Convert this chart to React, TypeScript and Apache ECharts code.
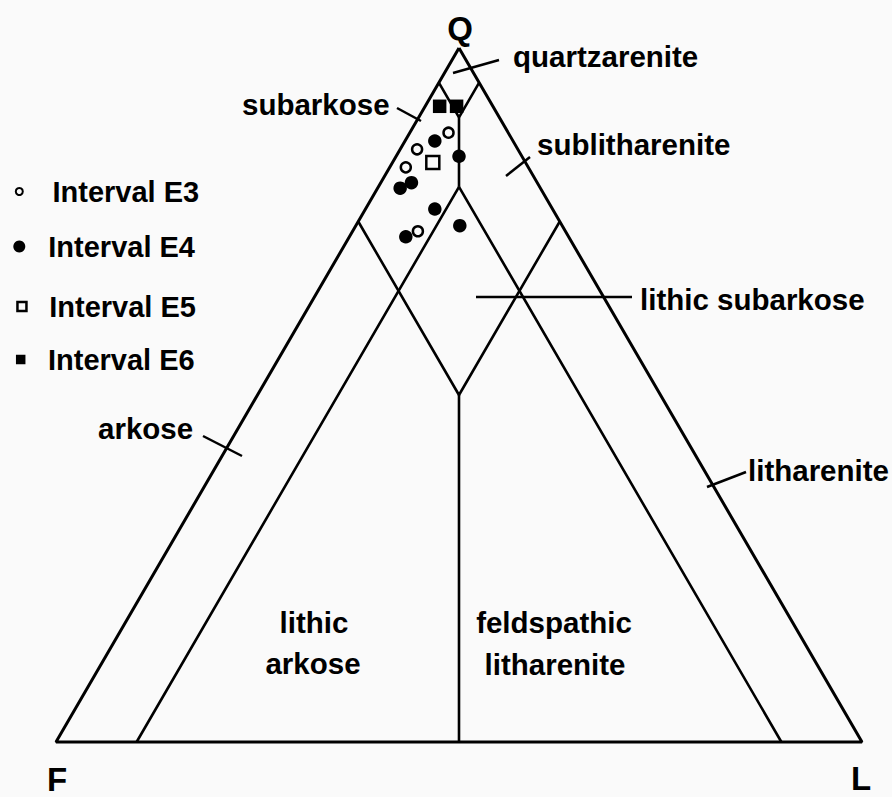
import React, { useEffect, useRef } from "react";
import * as echarts from "echarts";

// Ternary compositions in percent: [Q, F, L]
const intervalE3 = [
  [87.8, 7.4, 4.8],
  [85.4, 12.5, 2.1],
  [82.8, 15.2, 2.0],
  [73.6, 18.3, 8.1],
];
const intervalE4 = [
  [86.6, 9.7, 3.7],
  [84.4, 7.7, 7.8],
  [80.6, 15.6, 3.8],
  [79.8, 17.4, 2.8],
  [76.8, 14.6, 8.6],
  [74.4, 12.8, 12.9],
  [72.8, 20.2, 7.0],
];
const intervalE5 = [[83.5, 11.5, 5.0]];
const intervalE6 = [
  [91.6, 6.5, 1.8],
  [91.6, 4.5, 3.9],
];

const seriesNames = ["Interval E3", "Interval E4", "Interval E5", "Interval E6"];

// Field boundaries (ternary polylines, [Q, F, L])
const outline = [
  [100, 0, 0],
  [0, 100, 0],
  [0, 0, 100],
  [100, 0, 0],
];
const fieldLines = [
  [[95, 5, 0], [90, 5, 5], [95, 0, 5]],
  [[90, 5, 5], [80, 10, 10]],
  [[0, 90, 10], [80, 10, 10], [0, 10, 90]],
  [[75, 25, 0], [50, 25, 25], [75, 0, 25]],
  [[50, 25, 25], [0, 50, 50]],
];

const fieldNames = [
  "quartzarenite",
  "subarkose",
  "sublitharenite",
  "lithic subarkose",
  "arkose",
  "litharenite",
  "lithic",
  "arkose",
  "feldspathic",
  "litharenite",
];
const poleNames = ["Q", "F", "L"];

const FONT = "'Liberation Sans', Arial, Helvetica, sans-serif";

const toXY = (p: number[]) => [(p[2] + p[0] / 2) / 100, p[0] / 100];

export default function App() {
  const ref = useRef<HTMLDivElement>(null);

  useEffect(() => {
    if (!ref.current) return;
    const chart = echarts.init(ref.current, undefined, { renderer: "svg" });

    const lineSeries = [outline, ...fieldLines].map((pl, i) => ({
      type: "line",
      data: pl.map(toXY),
      symbol: "none",
      showSymbol: false,
      clip: false,
      silent: true,
      z: 1,
      lineStyle: { color: "#000", width: i === 0 ? 3 : 2.6 },
    }));

    const scatterStyles = [
      { symbol: "circle", symbolSize: 10, itemStyle: { color: "#fafafa", borderColor: "#000", borderWidth: 2.5, opacity: 1 } },
      { symbol: "circle", symbolSize: 13.5, itemStyle: { color: "#000", opacity: 1 } },
      { symbol: "rect", symbolSize: 13, itemStyle: { color: "#fafafa", borderColor: "#000", borderWidth: 2.5, opacity: 1 } },
      { symbol: "rect", symbolSize: 13.5, itemStyle: { color: "#000", opacity: 1 } },
    ];
    const groups = [intervalE3, intervalE4, intervalE5, intervalE6];
    const scatterSeries = groups.map((g, i) => ({
      type: "scatter",
      name: seriesNames[i],
      data: g.map(toXY),
      clip: false,
      z: 3,
      ...scatterStyles[i],
    }));

    // legend layout: icon centre (cx), icon size, text start x (tx), top
    const legendLayout = [
      { cx: 18.3, tx: 51.5, top: 177, icon: "circle", size: 7, itemStyle: { color: "#fafafa", borderColor: "#000", borderWidth: 2, opacity: 1 } },
      { cx: 19.3, tx: 48.3, top: 232, icon: "circle", size: 12, itemStyle: { color: "#000", borderWidth: 0, opacity: 1 } },
      { cx: 20.7, tx: 48, top: 292, icon: "rect", size: 9, itemStyle: { color: "#fafafa", borderColor: "#000", borderWidth: 2.5, opacity: 1 } },
      { cx: 20.7, tx: 48, top: 345, icon: "rect", size: 9.5, itemStyle: { color: "#000", borderWidth: 0, opacity: 1 } },
    ];

    const legends = legendLayout.map((l, i) => {
      const left = l.cx - l.size / 2;
      const pad = l.tx - left - l.size - 5;
      return {
        left,
        top: l.top,
        padding: 0,
        itemWidth: l.size,
        itemHeight: l.size,
        selectedMode: false,
        data: [{ name: seriesNames[i], icon: l.icon, itemStyle: l.itemStyle }],
        textStyle: {
          fontFamily: FONT,
          fontSize: 29,
          fontWeight: "bold",
          color: "#000",
          lineHeight: 28,
          padding: [0, 0, 0, pad],
        },
      };
    });

    const fieldLabelPos = [
      { x: 513, y: 56, align: "left" },
      { x: 242, y: 104, align: "left" },
      { x: 537, y: 144, align: "left" },
      { x: 640, y: 299, align: "left" },
      { x: 98, y: 428, align: "left" },
      { x: 748, y: 470, align: "left" },
      { x: 314, y: 622, align: "center" },
      { x: 313, y: 663, align: "center" },
      { x: 554, y: 622, align: "center" },
      { x: 555, y: 664, align: "center" },
    ];
    const polePos = [
      { x: 460, y: 28 },
      { x: 57, y: 779 },
      { x: 861, y: 778 },
    ];
    const leaders = [
      [453, 73, 499, 60],
      [397, 108, 421, 121],
      [506, 176, 530, 157],
      [476, 297, 632, 297],
      [203, 436, 242, 456],
      [707, 487, 746, 472],
    ];

    const graphic: any[] = [
      ...fieldNames.map((t, i) => ({
        type: "text",
        x: fieldLabelPos[i].x,
        y: fieldLabelPos[i].y,
        silent: true,
        style: {
          text: t,
          fontFamily: FONT,
          fontSize: 29.5,
          fontWeight: "bold",
          fill: "#000",
          align: fieldLabelPos[i].align,
          verticalAlign: "middle",
        },
      })),
      ...poleNames.map((t, i) => ({
        type: "text",
        x: polePos[i].x,
        y: polePos[i].y,
        silent: true,
        style: {
          text: t,
          fontFamily: FONT,
          fontSize: 33,
          fontWeight: "bold",
          fill: "#000",
          align: "center",
          verticalAlign: "middle",
        },
      })),
      ...leaders.map((l) => ({
        type: "line",
        silent: true,
        shape: { x1: l[0], y1: l[1], x2: l[2], y2: l[3] },
        style: { stroke: "#000", lineWidth: 2.5 },
      })),
    ];

    chart.setOption({
      animation: false,
      backgroundColor: "#fafafa",
      grid: { left: 56, top: 48, width: 806, height: 694 },
      xAxis: { type: "value", min: 0, max: 1, show: false },
      yAxis: { type: "value", min: 0, max: 1, show: false },
      legend: legends,
      series: [...lineSeries, ...scatterSeries],
      graphic,
    });

    return () => chart.dispose();
  }, []);

  return (
    <div
      ref={ref}
      style={{ position: "absolute", left: 0, top: 0, width: 892, height: 797 }}
    />
  );
}
